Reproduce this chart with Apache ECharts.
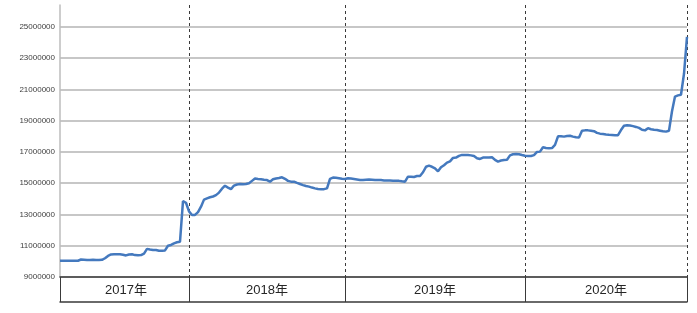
<!DOCTYPE html>
<html>
<head>
<meta charset="utf-8">
<script src="https://cdn.jsdelivr.net/npm/echarts@6/dist/echarts.min.js"></script>
<style>
html,body{margin:0;padding:0;background:#fff;}
#chart{width:697px;height:313px;}
</style>
</head>
<body>
<div id="chart"></div>
<script>
// Year labels (category table)
var yearLabels = ['2017年', '2018年', '2019年', '2020年'];
// Y-axis tick values
var yTicks = [9000000, 11000000, 13000000, 15000000, 17000000, 19000000, 21000000, 23000000, 25000000];
// Series values by year (in millions)
var values2017 = [10.04,10.04,10.04,10.04,10.04,10.04,10.04,10.12,10.1,10.08,10.08,10.1,10.08,10.08,10.1,10.2,10.35,10.44,10.45,10.45,10.45,10.42,10.38,10.44,10.45,10.4,10.39,10.4,10.5,10.8,10.76,10.73,10.73,10.68,10.68,10.7,11.0,11.05,11.15,11.22,11.26,13.85,13.75];
var values2018 = [13.2,12.97,12.97,13.15,13.5,13.95,14.03,14.1,14.15,14.24,14.4,14.65,14.84,14.72,14.62,14.85,14.92,14.95,14.93,14.95,15.0,15.15,15.3,15.27,15.25,15.22,15.2,15.1,15.25,15.3,15.33,15.38,15.28,15.15,15.1,15.1,15.02,14.95,14.88,14.82,14.78,14.72,14.67,14.63,14.61,14.62,14.67,15.28,15.36,15.35,15.32,15.28];
var values2019 = [15.27,15.32,15.3,15.27,15.24,15.21,15.2,15.22,15.24,15.22,15.2,15.21,15.2,15.18,15.17,15.17,15.16,15.15,15.15,15.12,15.1,15.42,15.42,15.4,15.46,15.46,15.7,16.05,16.12,16.05,15.95,15.76,16.02,16.15,16.32,16.4,16.62,16.64,16.75,16.81,16.8,16.8,16.78,16.74,16.6,16.55,16.64,16.64,16.65,16.66,16.49,16.38,16.45,16.49,16.5,16.78,16.85,16.87,16.85,16.8];
var values2020 = [16.76,16.74,16.74,16.8,17.0,17.02,17.3,17.25,17.23,17.25,17.45,18.0,18.0,17.98,18.02,18.04,17.98,17.94,17.92,18.35,18.38,18.38,18.36,18.33,18.22,18.17,18.15,18.12,18.1,18.09,18.07,18.07,18.4,18.68,18.71,18.69,18.65,18.6,18.54,18.42,18.38,18.52,18.45,18.42,18.4,18.36,18.32,18.3,18.36,19.6,20.54,20.62,20.66,22.0,24.36];

var yearValues = [values2017, values2018, values2019, values2020];
var categories = [];
var seriesData = [];
var yearStarts = [];
yearValues.forEach(function (arr, y) {
  yearStarts.push(categories.length);
  arr.forEach(function (v, k) {
    categories.push(yearLabels[y] + ' ' + k);
    seriesData.push(Math.round(v * 1000000));
  });
});
var lastIdx = categories.length - 1;
var boundaries = yearStarts.slice(1).concat([lastIdx]);
var labelIdx = {};
yearStarts.forEach(function (s, y) {
  var e = y + 1 < yearStarts.length ? yearStarts[y + 1] : lastIdx;
  labelIdx[Math.round((s + e) / 2)] = yearLabels[y];
});

var chart = echarts.init(document.getElementById('chart'), null, {renderer: 'canvas'});
chart.setOption({
  animation: false,
  backgroundColor: '#ffffff',
  grid: {left: 60, right: 10, top: 5, bottom: 36, containLabel: false},
  xAxis: [{
    type: 'category',
    data: categories,
    boundaryGap: false,
    position: 'bottom',
    axisLine: {show: true, lineStyle: {color: '#3a3a3a', width: 1.5}},
    axisTick: {
      show: true, inside: false, length: 25,
      interval: function (i) { return i === 0 || boundaries.indexOf(i) >= 0; },
      lineStyle: {color: '#3a3a3a', width: 1}
    },
    axisLabel: {
      show: true,
      interval: function (i) { return labelIdx[i] !== undefined; },
      formatter: function (v) { return v.split(' ')[0]; },
      margin: 7,
      fontSize: 13,
      color: '#262626',
      fontFamily: "'Liberation Sans', 'Noto Sans CJK SC', sans-serif"
    },
    splitLine: {
      show: true,
      interval: function (i) { return boundaries.indexOf(i) >= 0; },
      lineStyle: {color: '#3a3a3a', type: [3, 3], width: 1}
    }
  }, {
    type: 'category',
    data: categories,
    boundaryGap: false,
    position: 'bottom',
    offset: 25,
    axisLine: {show: true, lineStyle: {color: '#3a3a3a', width: 1.5}},
    axisTick: {show: false},
    axisLabel: {show: false},
    splitLine: {show: false}
  }],
  yAxis: {
    type: 'value',
    min: yTicks[0],
    max: 26400000,
    interval: 2000000,
    axisLine: {show: true, lineStyle: {color: '#bdbdbd', width: 1.5}},
    axisTick: {show: false},
    axisLabel: {
      show: true,
      showMaxLabel: false,
      margin: 5,
      fontSize: 8,
      color: '#404040',
      fontFamily: "'Liberation Sans', Arial, sans-serif",
      formatter: function (v) { return yTicks.indexOf(v) >= 0 ? String(v) : ''; }
    },
    splitLine: {show: true, showMaxLine: false, lineStyle: {color: '#b4b4b4', width: 1.5}}
  },
  series: [{
    type: 'line',
    xAxisIndex: 0,
    data: seriesData,
    showSymbol: false,
    symbol: 'none',
    lineStyle: {color: '#4479be', width: 2.5},
    itemStyle: {color: '#4479be'}
  }]
});
</script>
</body>
</html>
